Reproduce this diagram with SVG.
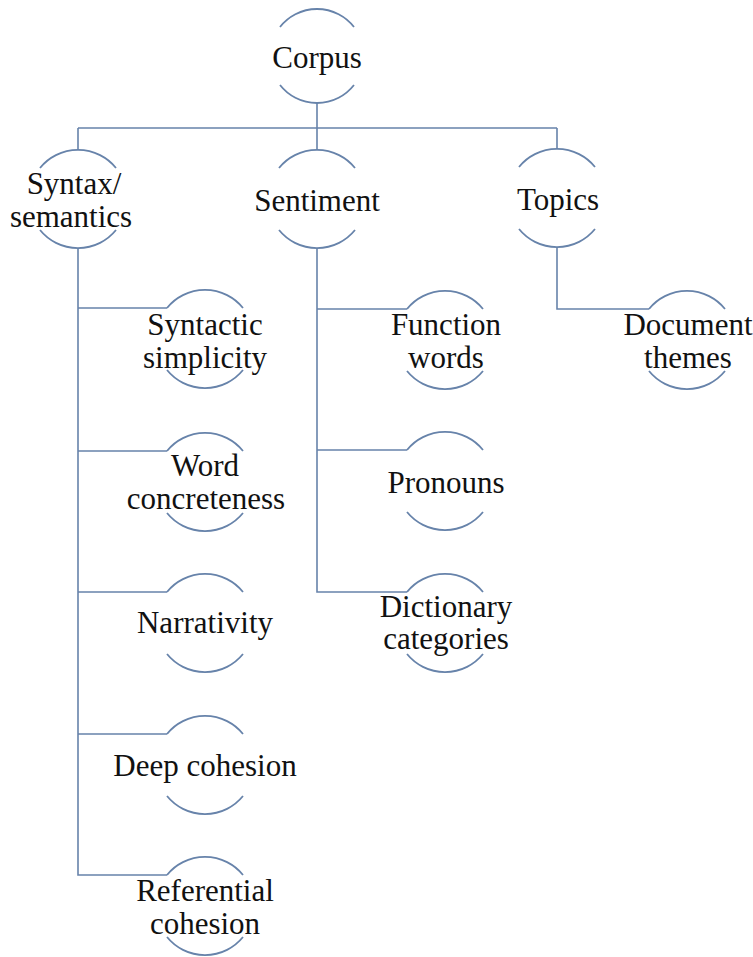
<svg xmlns="http://www.w3.org/2000/svg" width="753" height="957" viewBox="0 0 753 957">
<style>
.bg{fill:#ffffff}
.arc{fill:none;stroke:#6783aa;stroke-width:1.8}
.conn{fill:none;stroke:#6783aa;stroke-width:1.6}
text{font-family:"Liberation Serif","Times New Roman",serif;font-size:31px;fill:#111111;text-anchor:middle}
</style>
<rect class="bg" x="0" y="0" width="753" height="957"/>
<g id="connectors">
<path class="conn" d="M317 103 V128 M78 128 H557 M78 128 V150 M317 128 V150 M557 128 V149"/>
<path class="conn" d="M78 248 V875 H167 M78 308 H167 M78 451 H167 M78 592 H167 M78 734 H167"/>
<path class="conn" d="M317 248 V592 H407 M317 309 H407 M317 450 H407"/>
<path class="conn" d="M557 247 V309 H649"/>
</g>
<g id="corpus">
<path class="arc" d="M280 27 A47 47 0 0 1 354 27 M280 85 A47 47 0 0 0 354 85"/>
<text x="317" y="68">Corpus</text>
</g>
<g id="syntax-semantics">
<path class="arc" d="M40 168 A49 49 0 0 1 116 168 M40 230 A49 49 0 0 0 116 230"/>
<text x="74" y="194">Syntax/</text>
<text x="71" y="227">semantics</text>
</g>
<g id="sentiment">
<path class="arc" d="M279 168 A49 49 0 0 1 355 168 M279 230 A49 49 0 0 0 355 230"/>
<text x="317" y="211">Sentiment</text>
</g>
<g id="topics">
<path class="arc" d="M519 167 A49 49 0 0 1 595 167 M519 229 A49 49 0 0 0 595 229"/>
<text x="558" y="210">Topics</text>
</g>
<g id="syntactic-simplicity">
<path class="arc" d="M167 308 A49 49 0 0 1 243 308 M167 370 A49 49 0 0 0 243 370"/>
<text x="205" y="335">Syntactic</text>
<text x="205" y="368">simplicity</text>
</g>
<g id="word-concreteness">
<path class="arc" d="M167 451 A49 49 0 0 1 243 451 M167 513 A49 49 0 0 0 243 513"/>
<text x="205" y="476">Word</text>
<text x="206" y="509">concreteness</text>
</g>
<g id="narrativity">
<path class="arc" d="M167 592 A49 49 0 0 1 243 592 M167 654 A49 49 0 0 0 243 654"/>
<text x="205" y="633">Narrativity</text>
</g>
<g id="deep-cohesion">
<path class="arc" d="M167 734 A49 49 0 0 1 243 734 M167 796 A49 49 0 0 0 243 796"/>
<text x="205" y="776">Deep cohesion</text>
</g>
<g id="referential-cohesion">
<path class="arc" d="M167 875 A49 49 0 0 1 243 875 M167 937 A49 49 0 0 0 243 937"/>
<text x="205" y="901">Referential</text>
<text x="205" y="934">cohesion</text>
</g>
<g id="function-words">
<path class="arc" d="M407 309 A49 49 0 0 1 483 309 M407 371 A49 49 0 0 0 483 371"/>
<text x="446" y="335">Function</text>
<text x="446" y="368">words</text>
</g>
<g id="pronouns">
<path class="arc" d="M407 450 A49 49 0 0 1 483 450 M407 512 A49 49 0 0 0 483 512"/>
<text x="446" y="493">Pronouns</text>
</g>
<g id="dictionary-categories">
<path class="arc" d="M407 592 A49 49 0 0 1 483 592 M407 654 A49 49 0 0 0 483 654"/>
<text x="446" y="617">Dictionary</text>
<text x="446" y="649">categories</text>
</g>
<g id="document-themes">
<path class="arc" d="M649 309 A49 49 0 0 1 725 309 M649 371 A49 49 0 0 0 725 371"/>
<text x="688" y="335">Document</text>
<text x="688" y="368">themes</text>
</g>
</svg>
